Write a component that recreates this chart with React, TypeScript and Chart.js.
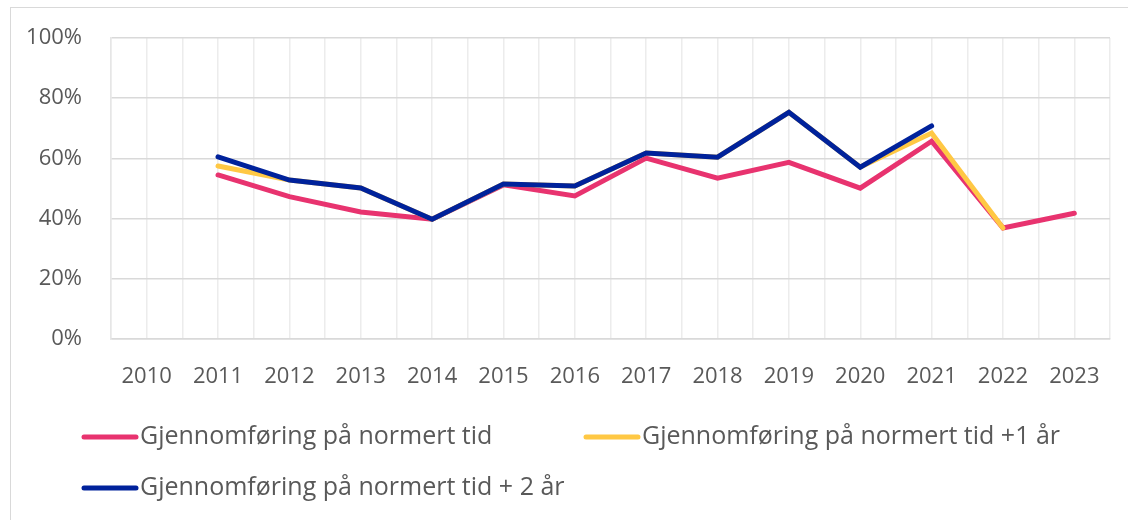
import React, { useEffect, useRef } from "react";
import { Chart, registerables } from "chart.js";

Chart.register(...registerables);

const years = ["2010", "2011", "2012", "2013", "2014", "2015", "2016", "2017", "2018", "2019", "2020", "2021", "2022", "2023"];
const normertTid = [null, 54.5, 47.3, 42.2, 39.8, 51.2, 47.5, 60.1, 53.4, 58.7, 50.1, 65.7, 36.9, 41.8];
const normertTidPluss1 = [null, 57.5, 52.8, 50.2, 39.8, 51.5, 50.8, 61.8, 60.4, 75.3, 57.1, 68.4, 36.9, null];
const normertTidPluss2 = [null, 60.5, 52.8, 50.2, 39.8, 51.5, 50.8, 61.8, 60.4, 75.3, 57.1, 70.8, null, null];
const seriesLabels = [
  "Gjennomføring på normert tid",
  "Gjennomføring på normert tid +1 år",
  "Gjennomføring på normert tid + 2 år",
];
const seriesColors = ["#E8336F", "#FFC844", "#00229B"];
const yTicks = [0, 20, 40, 60, 80, 100];

const FONT = "'Open Sans', sans-serif";
const TEXT = "#595959";

const legendPlugin = {
  id: "customLegend",
  afterDraw(chart: any) {
    const ctx = chart.ctx;
    const ds = chart.data.datasets;
    const slots = [
      { x: 71, y: 429 },
      { x: 573, y: 429 },
      { x: 71, y: 480 },
    ];
    ctx.save();
    ctx.font = `25px ${FONT}`;
    ctx.textBaseline = "middle";
    ctx.textAlign = "left";
    ds.forEach((d: any, i: number) => {
      const s = slots[i];
      ctx.strokeStyle = d.borderColor;
      ctx.lineWidth = 5;
      ctx.lineCap = "round";
      ctx.beginPath();
      ctx.moveTo(s.x + 2, s.y);
      ctx.lineTo(s.x + 54, s.y);
      ctx.stroke();
      ctx.fillStyle = TEXT;
      ctx.fillText(d.label, s.x + 58, s.y);
    });
    ctx.restore();
  },
};

export default function App() {
  const ref = useRef<HTMLCanvasElement>(null);
  useEffect(() => {
    document.body.style.overflow = "hidden";
    const series = [normertTid, normertTidPluss1, normertTidPluss2];
    const chart = new Chart(ref.current!, {
      type: "line",
      data: {
        datasets: series.map((vals, i) => ({
          label: seriesLabels[i],
          data: vals.map((v, j) => ({ x: j, y: v })),
          borderColor: seriesColors[i],
          backgroundColor: seriesColors[i],
          borderWidth: 5,
          pointRadius: 0,
          tension: 0,
          borderCapStyle: "round",
          borderJoinStyle: "miter",
          spanGaps: false,
          order: 3 - i,
        })) as any,
      },
      options: {
        animation: false,
        responsive: false,
        layout: { padding: { top: 30, right: 26, bottom: 121, left: 0 } },
        plugins: { legend: { display: false }, tooltip: { enabled: false } },
        scales: {
          x: {
            type: "linear",
            min: -0.5,
            max: 13.5,
            afterFit: (s: any) => { s.height = 60; },
            afterBuildTicks: (s: any) => {
              const t: any[] = [];
              for (let k = 0; k <= 28; k++) t.push({ value: -0.5 + k * 0.5 });
              s.ticks = t;
            },
            ticks: {
              autoSkip: false,
              maxRotation: 0,
              padding: 25,
              color: TEXT,
              font: { family: FONT, size: 22 },
              callback: (v: any) => (Number.isInteger(v) ? years[v] : ""),
            },
            grid: { color: "#ececec", lineWidth: 1.5, drawTicks: false },
            border: { color: "#d9d9d9", width: 1.5 },
          },
          y: {
            min: 0,
            max: 100,
            afterFit: (s: any) => { s.width = 100; },
            afterBuildTicks: (s: any) => { s.ticks = yTicks.map((v) => ({ value: v })); },
            ticks: {
              padding: 0,
              color: TEXT,
              font: { family: FONT, size: 22 },
              callback: (v: any) => v + "%",
            },
            grid: { color: "#d9d9d9", lineWidth: 1.5, drawTicks: true, tickLength: 29, tickColor: "rgba(0,0,0,0)" },
            border: { color: "#e6e6e6", width: 1.5 },
          },
        },
      },
      plugins: [legendPlugin],
    });
    return () => chart.destroy();
  }, []);
  return (
    <div style={{ position: "fixed", left: 10, top: 7, width: 1125, height: 520, border: "1px solid #d9d9d9", background: "#fff" }}>
      <canvas ref={ref} width={1125} height={512} />
    </div>
  );
}
